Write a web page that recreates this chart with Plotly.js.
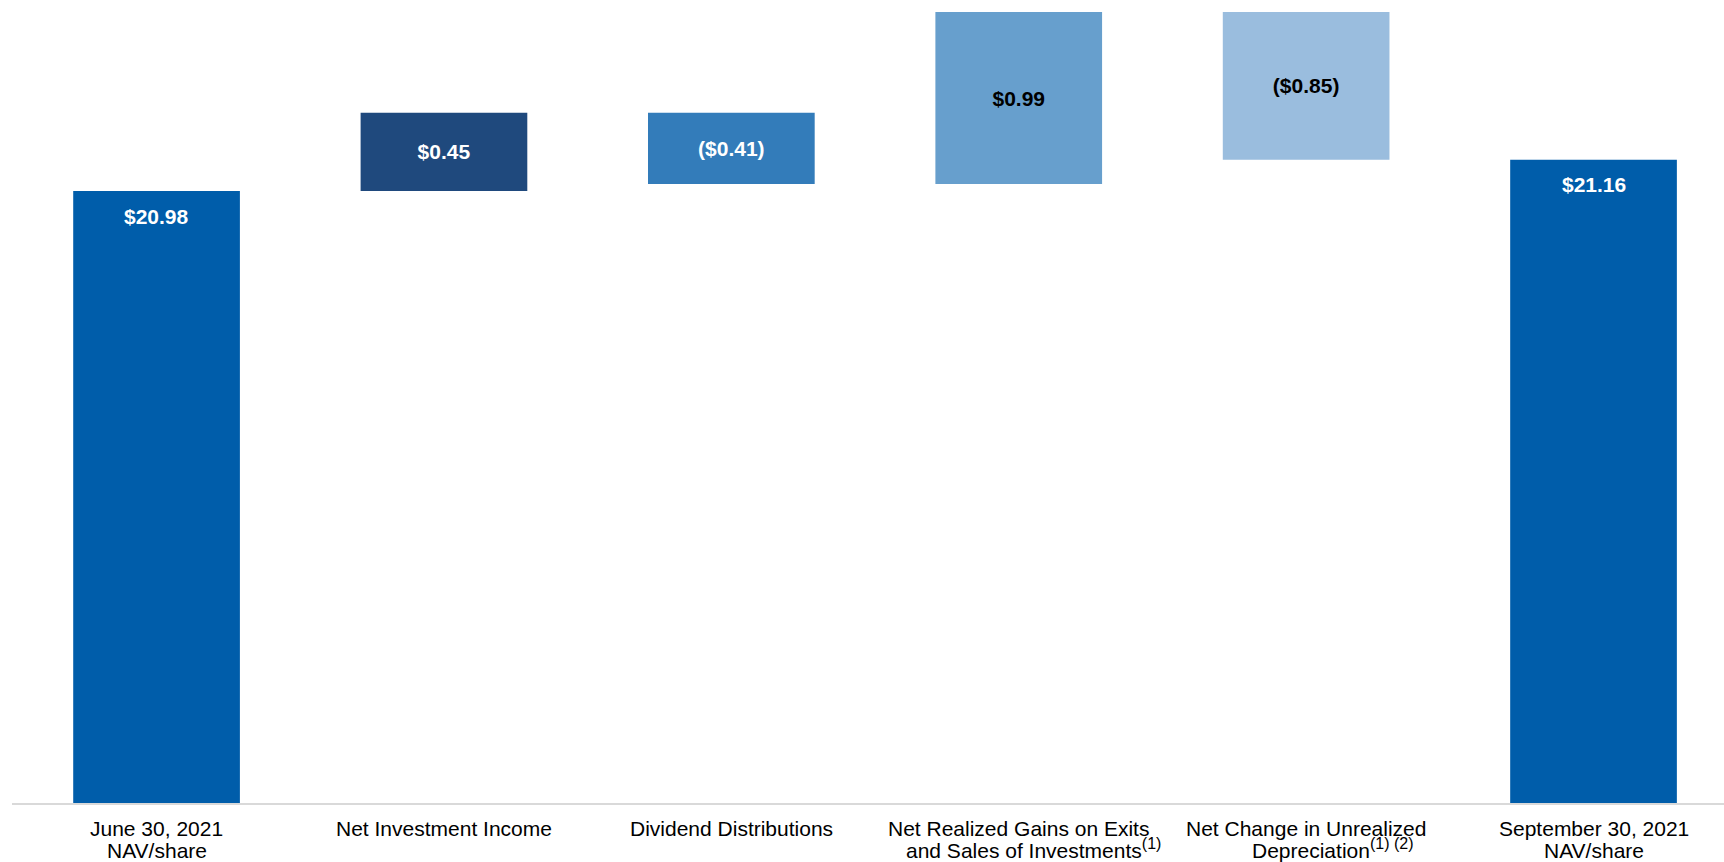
<!DOCTYPE html>
<html><head><meta charset="utf-8">
<script src="https://cdn.plot.ly/plotly-3.0.1.min.js"></script>
<style>html,body{margin:0;padding:0;background:#fff}#chart{width:1724px;height:862px}</style>
</head><body><div id="chart"></div>
<script>
// ---- data ----
const categories = [
  "June 30, 2021<br>NAV/share",
  "Net Investment Income",
  "Dividend Distributions",
  "Net Realized Gains on Exits<br>and Sales of Investments<sup>(1)</sup>",
  "Net Change in Unrealized<br>Depreciation<sup>(1) (2)</sup>",
  "September 30, 2021<br>NAV/share"
];
const measures = ["absolute", "relative", "relative", "relative", "relative", "total"];
const values = [20.98, 0.45, -0.41, 0.99, -0.85, 21.16];

// ---- style ----
const barColors = ["#005DAA", "#1F497D", "#337CBA", "#679FCD", "#9ABDDE", "#005DAA"];
const textColors = ["#FFFFFF", "#FFFFFF", "#FFFFFF", "#000000", "#000000", "#FFFFFF"];
const FONT = "Liberation Sans, Arial, sans-serif";
const line2Shift = [0, 0, 0, 15, 26, 0];

function fmt(v) {
  return v < 0 ? "($" + Math.abs(v).toFixed(2) + ")" : "$" + v.toFixed(2);
}
function bigSup(s) {
  return s.replace(/<sup>(.*?)<\/sup>/g, '<sup><span style="font-size:16px">$1</span></sup>')
          .replace(/<sup><span style="font-size:16px">\(1\) \(2\)<\/span><\/sup>/,
                   '<sup><span style="font-size:16px">(1) (2)</span></sup>');
}

// build bases / heights through running total
const bases = [], heights = [];
let running = 0;
measures.forEach((m, i) => {
  if (m === "relative") {
    bases.push(running);
    heights.push(values[i]);
    running += values[i];
  } else {
    bases.push(0);
    heights.push(values[i]);
    running = values[i];
  }
});

const trace = {
  type: "bar",
  x: categories,
  y: heights,
  base: bases,
  width: 0.58,
  marker: { color: barColors, line: { width: 0 } },
  text: values.map((v, i) => measures[i] === "relative" ? "<b>" + fmt(v) + "</b>" : ""),
  textposition: measures.map(m => m === "relative" ? "inside" : "none"),
  insidetextanchor: "middle",
  constraintext: "none",
  textangle: 0,
  textfont: { family: FONT, size: 21, color: textColors },
  hoverinfo: "skip"
};

const annotations = [];
// total labels
measures.forEach((m, i) => {
  if (m !== "relative") {
    annotations.push({
      x: i, y: values[i], xref: "x", yref: "y",
      text: "<b>" + fmt(values[i]) + "</b>",
      showarrow: false, yanchor: "middle", yshift: -25,
      font: { family: FONT, size: 21, color: textColors[i] }
    });
  }
});
// category labels (one annotation per line)
const lineShifts = [-38.5, -60.5];
categories.forEach((c, i) => {
  c.split("<br>").forEach((ln, j) => {
    annotations.push({
      x: i, y: 0, xref: "x", yref: "paper",
      text: bigSup(ln), showarrow: false,
      xanchor: "center", yanchor: "bottom",
      yshift: lineShifts[j], xshift: j === 1 ? line2Shift[i] : 0,
      font: { family: FONT, size: 21, color: "#000000" }
    });
  });
});

const layout = {
  width: 1724, height: 862,
  margin: { l: 12, r: 0, t: 0, b: 59 },
  paper_bgcolor: "#FFFFFF", plot_bgcolor: "#FFFFFF",
  showlegend: false,
  xaxis: {
    range: [-0.503, 5.454],
    showticklabels: false, ticks: "",
    showgrid: false, zeroline: false,
    showline: true, linecolor: "#D9D9D9", linewidth: 2
  },
  yaxis: {
    range: [17.459, 22.079],
    visible: false, showgrid: false, zeroline: false
  },
  annotations: annotations
};

Plotly.newPlot("chart", [trace], layout, { staticPlot: true, displayModeBar: false });
</script>
</body></html>
